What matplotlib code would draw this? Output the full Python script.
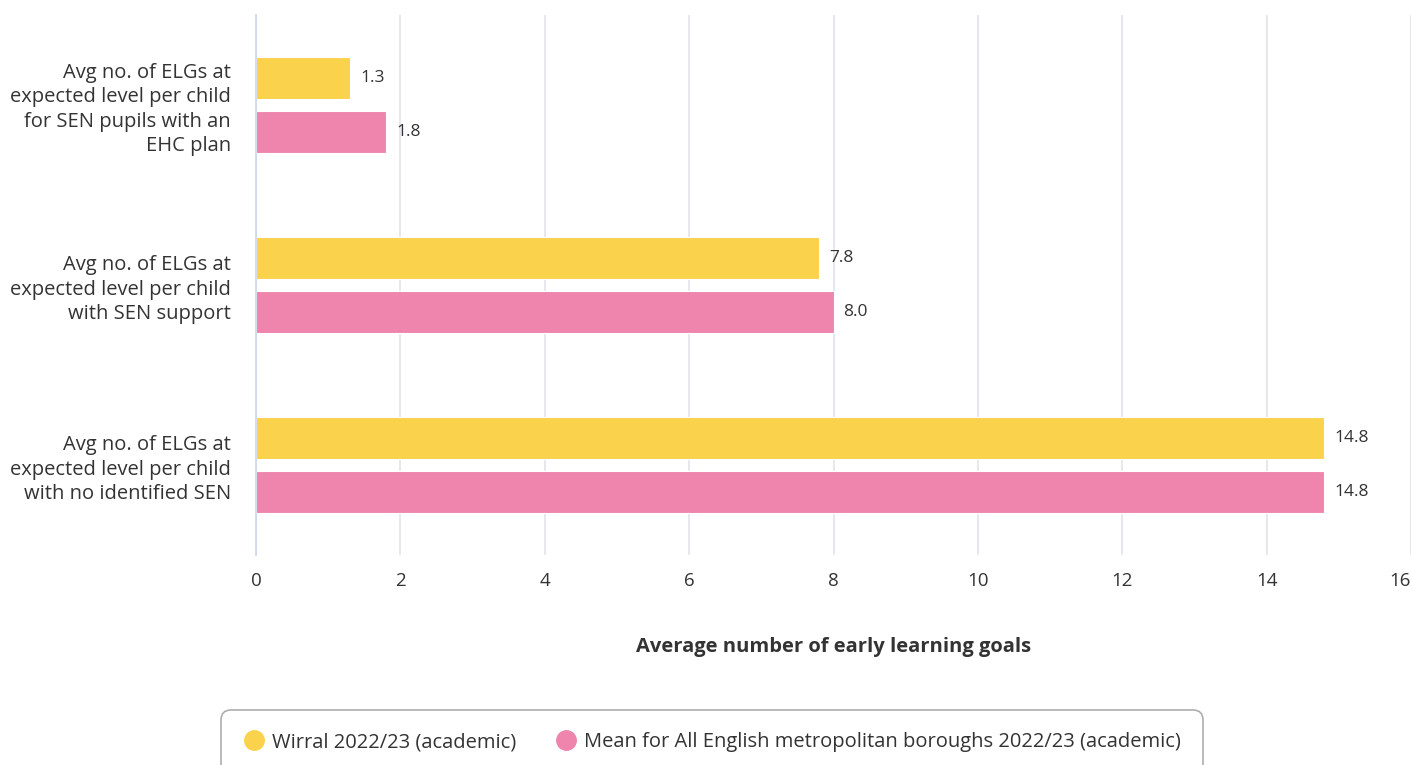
import numpy as np
import matplotlib.pyplot as plt

plt.rcParams['font.family'] = ['Open Sans', 'DejaVu Sans']

categories = [
    'Avg no. of ELGs at\nexpected level per child\nfor SEN pupils with an\nEHC plan',
    'Avg no. of ELGs at\nexpected level per child\nwith SEN support',
    'Avg no. of ELGs at\nexpected level per child\nwith no identified SEN',
]
wirral = [1.3, 7.8, 14.8]
boroughs = [1.8, 8.0, 14.8]
series_names = ['Wirral 2022/23 (academic)',
                'Mean for All English metropolitan boroughs 2022/23 (academic)']
colors = ['#fad24b', '#ef84ad']
xticks = [0, 2, 4, 6, 8, 10, 12, 14, 16]

fig = plt.figure(figsize=(14.12, 7.65), dpi=100)
ax = fig.add_axes([0.1813, 0.2745, 0.818, 0.706])

y = np.arange(len(categories))
h = 0.235
offset = 0.15
for vals, off, col, name in [(wirral, -offset, colors[0], series_names[0]),
                             (boroughs, offset, colors[1], series_names[1])]:
    bars = ax.barh(y + off, vals, height=h, color=col, edgecolor='white',
                   linewidth=0.8, label=name, zorder=3)
    for b, v in zip(bars, vals):
        ax.text(v + 0.14, b.get_y() + b.get_height() / 2, f'{v:.1f}',
                va='center', ha='left', fontsize=12.5, color='#333333', zorder=4)

ax.set_ylim(2.5, -0.5)
ax.set_xlim(0, 16)
ax.set_xticks(xticks)
ax.set_xticklabels([str(t) for t in xticks], fontsize=13.5, color='#333333')
# last label kept inside the figure, like the original
ax.get_xticklabels()[-1].set_horizontalalignment('right')
ax.set_yticks(y)
ax.set_yticklabels(categories, fontsize=14.5, color='#333333', linespacing=1.3)
ax.tick_params(axis='both', length=0)
ax.tick_params(axis='x', pad=12)
ax.tick_params(axis='y', pad=18)
ax.grid(axis='x', color='#e3e3ea', linewidth=1.2, zorder=0)
for s in ['top', 'right', 'bottom']:
    ax.spines[s].set_visible(False)
ax.spines['left'].set_color('#ccd6eb')
ax.spines['left'].set_linewidth(1.2)
ax.spines['left'].set_zorder(5)

ax.set_xlabel('Average number of early learning goals', fontsize=14.5,
              fontweight='bold', color='#333333', labelpad=34)

handles = [plt.Line2D([], [], marker='o', linestyle='', markersize=14,
                      markerfacecolor=c, markeredgecolor=c) for c in colors]
leg = fig.legend(handles, series_names, loc='upper center',
                 bbox_to_anchor=(0.5045, 0.085), ncol=2, fontsize=14.5,
                 frameon=True, handletextpad=0.4, columnspacing=2.0,
                 borderpad=1.1, handlelength=1.0)
leg.get_frame().set_edgecolor('#999999')
leg.get_frame().set_linewidth(1.2)
leg.get_frame().set_boxstyle('round', pad=0.0, rounding_size=0.5)
for t in leg.get_texts():
    t.set_color('#333333')

fig.savefig('out.png', dpi=100)
